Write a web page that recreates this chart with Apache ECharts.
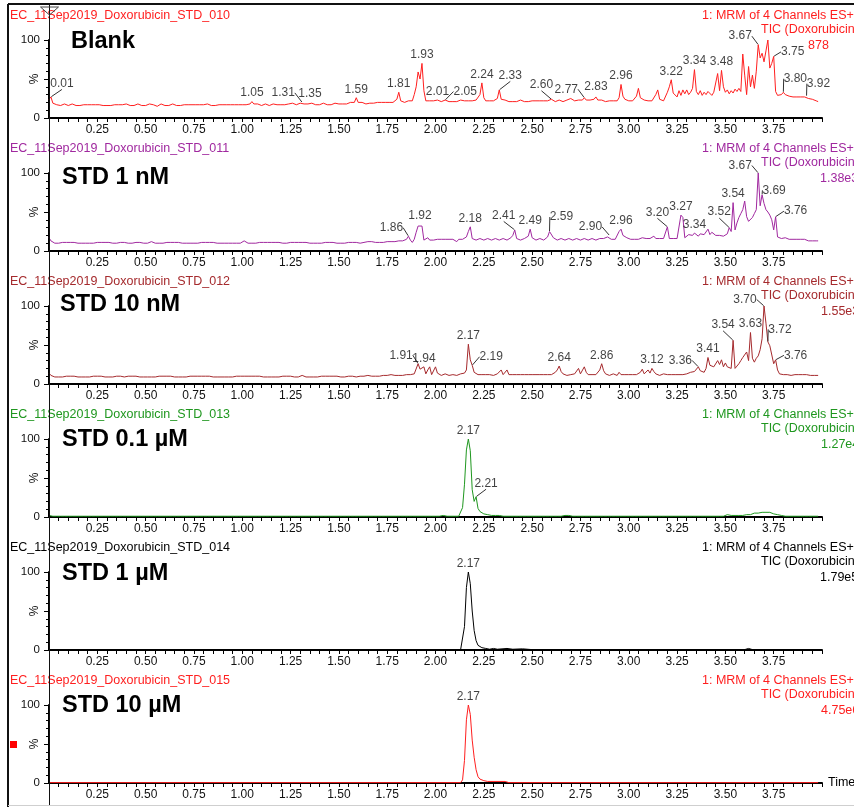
<!DOCTYPE html>
<html>
<head>
<meta charset="utf-8">
<script src="https://cdn.jsdelivr.net/npm/echarts@6/dist/echarts.min.js"></script>
<style>
  html, body { margin: 0; padding: 0; background: #fff; }
  #chart { width: 854px; height: 807px; }
</style>
</head>
<body>
<div id="chart"></div>
<script>
// Sampling interval of the uniformly acquired traces (minutes)
const TIME_STEP = 0.01;

// ---- TIC traces, relative intensity (%) -------------------------------
const blankTrace = [
  24,27,19,18,17,18,16,17,18,17, 16,17,18,17,16,17,16,18,17,16,
  17,18,17,16,17,16,17,18,16,17, 16,17,16,18,17,16,17,16,17,17,
  18,17,16,17,16,17,18,17,16,17, 16,17,18,17,17,16,15,17,18,17,
  16,17,16,17,18,17,16,17,16,18, 17,16,17,18,17,16,17,16,17,18,
  17,16,18,17,16,17,16,18,17,16, 17,18,17,16,17,18,17,16,17,18,
  17,18,17,19,18,21,18,17,18,17, 16,17,18,17,16,17,18,16,17,18,
  17,18,17,16,18,17,19,18,17,18, 19,20,18,17,18,20,19,18,17,18,
  17,18,19,18,17,18,17,18,19,18, 18,19,18,19,18,19,20,19,20,26,
  20,19,20,19,18,20,19,20,19,20, 20,21,20,19,20,21,20,21,20,22,
  24,33,22,21,20,21,22,23,22,30, 40,59,50,70,35,22,21,22,21,22,
  21,23,22,21,22,23,22,21,22,21, 22,21,22,23,21,22,21,22,23,22,
  22,23,24,30,45,26,22,21,22,21, 22,23,25,36,24,22,23,22,21,22,
  21,22,21,22,23,22,21,22,21,22, 22,21,22,21,22,23,22,21,22,21,
  24,22,21,22,23,22,21,22,23,24, 25,23,22,21,23,22,23,26,23,22,
  23,22,24,27,23,22,23,22,21,22, 22,21,22,23,22,26,43,28,24,23,
  22,23,22,24,28,38,26,24,23,22, 22,23,22,21,30,36,24,23,22,23,
  33,40,49,32,30,27,35,29,36,31, 36,30,33,38,62,34,30,35,29,33,
  30,34,36,29,33,35,57,35,61,40, 33,36,31,35,32,37,34,38,34,82,
  55,30,66,40,55,38,60,94,77,83, 72,86,100,64,70,79,34,29,28,30,
  33,30,29,28,29,27,28,27,26,27, 26,27,28,25,26,24,23,22,21
];

const std1nMTrace = [
  17,13,11,10,11,10,11,11,10,11, 10,11,10,11,11,10,11,10,11,10,
  11,10,11,10,10,11,10,11,10,11, 10,11,11,10,11,10,10,11,10,11,
  11,10,11,10,11,11,10,11,10,10, 11,10,11,12,11,10,11,10,11,10,
  10,11,10,11,10,11,10,11,11,10, 11,10,11,10,11,10,11,10,10,11,
  10,11,10,11,10,11,11,10,11,10, 11,10,11,10,11,10,11,10,11,10,
  11,13,11,10,11,10,11,10,11,11, 10,11,10,11,10,11,10,11,10,11,
  11,10,11,10,11,11,10,11,10,11, 10,11,10,11,11,10,11,10,11,10,
  11,10,11,11,10,11,10,11,11,10, 11,10,11,10,11,11,10,11,10,11,
  11,10,11,11,10,12,11,12,11,11, 12,11,12,11,12,12,11,12,13,12,
  12,13,12,13,14,15,19,14,11,15, 24,32,34,32,14,13,17,14,15,14,
  16,15,14,15,16,15,14,15,14,15, 14,12,15,14,15,16,18,25,31,16,
  15,14,15,16,15,14,15,16,15,14, 15,16,15,14,15,16,15,14,16,17,
  20,27,16,15,14,15,16,15,19,28, 17,15,14,15,16,15,14,16,18,25,
  24,17,15,14,15,16,15,14,15,16, 15,14,15,16,15,14,15,16,15,14,
  15,16,15,14,15,16,15,16,17,18, 20,15,16,15,17,25,28,20,22,17,
  16,15,16,15,16,15,16,17,15,16, 15,16,15,19,16,15,16,15,16,17,
  31,16,15,16,17,16,18,46,43,17, 18,21,19,20,23,21,19,22,20,21,
  22,28,21,24,23,20,19,20,18,19, 20,22,30,25,62,27,36,43,48,53,
  64,44,38,36,43,48,53,100,58,72, 61,53,50,46,40,27,44,18,17,16,
  16,17,16,15,16,15,16,15,14,15, 14,15,14,13,14,13,14,13,13
];

const std10nMTrace = [
  14,11,10,9,10,9,10,9,9,10, 9,10,9,10,9,9,10,9,10,9,
  10,9,9,10,9,10,9,10,9,9, 10,9,10,9,9,10,9,10,10,9,
  9,10,9,10,9,10,9,9,10,9, 10,9,10,9,10,9,9,10,9,10,
  9,10,9,10,10,9,10,9,10,9, 10,9,9,10,9,10,9,10,9,10,
  9,10,9,10,9,9,10,9,10,9, 10,9,10,9,10,9,9,10,9,10,
  9,10,9,10,9,10,9,10,9,10, 10,9,10,9,10,9,10,9,10,9,
  9,10,9,10,9,10,10,9,10,9, 10,11,10,9,10,9,10,9,10,9,
  9,10,9,10,9,10,9,10,9,10, 10,9,10,9,10,10,9,10,10,9,
  10,10,9,10,10,11,10,10,11,10, 11,10,11,11,10,11,11,12,11,11,
  12,11,12,11,12,12,11,12,12,13, 14,26,19,17,22,13,18,22,12,12,
  22,14,12,11,12,13,12,11,12,12, 12,11,12,13,12,14,18,51,31,24,
  15,13,12,11,12,13,12,11,12,12, 11,12,13,14,18,12,13,18,12,11,
  12,11,12,13,12,11,12,11,12,13, 12,11,12,13,12,11,12,13,12,11,
  12,13,15,18,23,16,13,12,11,12, 12,11,13,15,20,13,14,22,15,12,
  11,12,13,12,14,18,26,17,13,12, 11,12,13,12,11,15,12,11,12,13,
  12,11,12,13,12,14,15,19,13,12, 18,14,20,16,13,12,11,12,13,12,
  12,13,12,11,12,13,12,13,12,14, 13,14,15,14,16,18,22,17,19,15,
  20,34,24,26,22,24,30,25,31,22, 27,22,24,20,56,20,23,26,30,34,
  36,41,30,66,33,28,33,36,44,58, 100,78,54,49,50,26,31,18,13,12,
  12,13,12,12,11,12,12,11,12,11, 12,11,12,11,11,12,11,11,11
];

const std01uMTrace = [
  2,1,1,1,1,1,1,1,1,1, 1,1,1,1,1,1,1,1,1,1,
  1,1,1,1,1,1,1,1,1,1, 1,1,1,1,1,1,1,1,1,1,
  1,1,1,1,1,1,1,1,1,1, 1,1,1,1,1,1,1,1,1,1,
  1,1,1,1,1,1,1,1,1,1, 1,1,1,1,1,1,1,1,1,1,
  1,1,1,1,1,1,1,1,1,1, 1,1,1,1,1,1,1,1,1,1,
  1,1,1,1,1,1,1,1,1,1, 1,1,1,1,1,1,1,1,1,1,
  1,1,1,1,1,1,1,1,1,1, 1,1,1,1,1,1,1,1,1,1,
  1,1,1,1,1,1,1,1,1,1, 1,1,1,1,1,1,1,1,1,1,
  1,1,1,1,1,1,1,1,1,1, 1,1,1,1,1,1,1,1,1,1,
  1,1,1,1,1,1,1,1,1,1, 1,2,1,1,1,1,1,1,1,1,
  1,1,1,1,2,1,1,1,1,1, 1,1,1,1,12,42,86,100,85,35,
  20,26,11,7,5,4,4,3,3,2, 3,2,3,2,2,1,2,1,1,1,
  1,1,1,1,1,1,1,1,1,1, 1,1,1,1,1,1,1,1,1,1,
  1,1,1,1,1,1,1,2,3,2, 1,1,1,1,1,1,1,1,1,1,
  1,1,1,1,1,1,1,1,1,1, 1,1,1,1,1,1,1,1,1,1,
  1,1,1,1,1,1,1,1,1,1, 1,1,1,1,1,1,1,1,1,1,
  1,1,1,1,1,1,1,1,1,1, 1,1,1,1,1,1,1,1,1,1,
  1,1,2,1,1,1,1,1,1,1, 2,3,2,2,3,2,2,2,3,2,
  3,3,4,3,4,5,4,5,6,6, 7,6,8,6,5,4,3,3,2,2,
  1,1,1,1,1,1,1,1,1,1, 1,1,1,1,1,1,1,1,1
];

// [time, %] pairs for the two high-concentration runs (flat between points)
const std1uMTrace = [
  [0,0.5],[2.13,0.5],[2.14,3],[2.15,30],[2.16,80],[2.17,100],[2.18,85],[2.19,50],
  [2.20,25],[2.21,12],[2.22,6],[2.23,4],[2.24,3],[2.26,2],[2.28,1],[2.30,2],
  [2.32,1],[2.37,2],[2.40,1],[2.45,1.5],[2.50,0.5],[3.60,0.5],[3.62,2],
  [3.64,0.5],[3.98,0.5]
];

const std10uMTrace = [
  [0,0.5],[2.13,0.5],[2.14,4],[2.15,29],[2.16,81],[2.17,100],[2.18,88],[2.19,55],
  [2.20,33],[2.21,17],[2.22,8],[2.23,5],[2.24,4],[2.25,3],[2.27,2],[2.36,2],
  [2.38,0.5],[3.98,0.5]
];

// ---- Annotated retention times (min) ---------------------------------
const blankPeaks   = [0.01,1.05,1.31,1.35,1.59,1.81,1.93,2.01,2.05,2.24,2.33,2.60,2.77,2.83,2.96,3.22,3.34,3.48,3.67,3.75,3.80,3.92];
const std1nMPeaks  = [1.86,1.92,2.18,2.41,2.49,2.59,2.90,2.96,3.20,3.27,3.34,3.52,3.54,3.67,3.69,3.76];
const std10nMPeaks = [1.91,1.94,2.17,2.19,2.64,2.86,3.12,3.36,3.41,3.54,3.63,3.70,3.72,3.76];
const std01uMPeaks = [2.17,2.21];
const std1uMPeaks  = [2.17];
const std10uMPeaks = [2.17];

// ---- Sample descriptions ----------------------------------------------
const sampleNames = ['Blank', 'STD 1 nM', 'STD 10 nM', 'STD 0.1 µM', 'STD 1 µM', 'STD 10 µM'];
const fileNames = [
  'EC_11Sep2019_Doxorubicin_STD_010', 'EC_11Sep2019_Doxorubicin_STD_011',
  'EC_11Sep2019_Doxorubicin_STD_012', 'EC_11Sep2019_Doxorubicin_STD_013',
  'EC_11Sep2019_Doxorubicin_STD_014', 'EC_11Sep2019_Doxorubicin_STD_015'
];
const scanText = '1: MRM of 4 Channels ES+';
const ticText = 'TIC (Doxorubicin)';
const scaleTexts = ['878', '1.38e3', '1.55e3', '1.27e4', '1.79e5', '4.75e6'];

// ---- Presentation ------------------------------------------------------
const FONT = '"Liberation Sans", Arial, sans-serif';
const traceColors = ['#ff1f1f', '#a0289f', '#a52a2d', '#1f971f', '#000000', '#ff1f1f'];
const plotLeft = 49, plotRight = 32, firstTop = 40, panelStep = 133, plotHeight = 78;
const titleX = [71, 62, 60, 62, 62, 62];
const titleDy = [2, 5, -1, 1, 2, 1];
const scaleX = [808, 820, 821, 821, 820, 821];
// label shift [dx, dy] from the default position above each annotated peak
const labelShifts = [
  [[11,-5],[0,0],[-19,-1],[0,0],[0,0],[0,0],[0,0],[0,0],[20,0],[0,0],[11,-6],[-10,-6],[-18,0],[0,-2],[0,0],[0,0],[0,0],[0,0],[-18,0],[19,4],[12,-5],[12,-4]],
  [[-17,0],[0,0],[0,0],[-11,-6],[0,0],[12,-6],[-19,0],[0,0],[-10,-6],[0,0],[0,0],[-10,-7],[0,0],[-18,1],[12,4],[20,3]],
  [[-17,0],[0,0],[0,0],[19,0],[0,0],[0,0],[0,0],[-18,2],[0,0],[-10,-7],[0,0],[-19,2],[12,-4],[20,4]],
  [[0,0],[10,-5]],
  [[0,0]],
  [[0,0]]
];

const traces = [blankTrace, std1nMTrace, std10nMTrace, std01uMTrace, std1uMTrace, std10uMTrace];
const peakLists = [blankPeaks, std1nMPeaks, std10nMPeaks, std01uMPeaks, std1uMPeaks, std10uMPeaks];

function asPairs(trace) {
  if (typeof trace[0] !== 'number') return trace;
  return trace.map((v, i) => [+(i * TIME_STEP).toFixed(2), v]);
}
function intensityAt(pairs, t) {
  let best = pairs[0];
  for (const p of pairs) if (Math.abs(p[0] - t) < Math.abs(best[0] - t)) best = p;
  return best[1];
}

const grids = [], xAxes = [], yAxes = [], series = [], graphics = [];

traces.forEach((trace, k) => {
  const top = firstTop + k * panelStep;
  const color = traceColors[k];
  const pairs = asPairs(trace);
  grids.push({
    left: plotLeft, right: plotRight, top: top, height: plotHeight,
    containLabel: false, outerBoundsMode: 'none'
  });

  xAxes.push({
    type: 'value', gridIndex: k, min: 0, max: 4, interval: 0.25,
    axisLine: { show: true, onZero: false, lineStyle: { color: '#000', width: 2 } },
    axisTick: { show: true, length: 4, lineStyle: { color: '#000', width: 1 } },
    minorTick: { show: true, splitNumber: 5, length: 4, lineStyle: { color: '#000', width: 1 } },
    splitLine: { show: false }, minorSplitLine: { show: false },
    axisLabel: {
      margin: 6, fontSize: 12, color: '#111', fontFamily: FONT,
      formatter: v => (v <= 0 || v >= 4) ? '' : v.toFixed(2)
    },
    name: k === traces.length - 1 ? 'Time' : '',
    nameLocation: 'end', nameGap: 6, nameMoveOverlap: false,
    nameTextStyle: { fontSize: 12.5, color: '#000', fontFamily: FONT }
  });

  yAxes.push({
    type: 'value', gridIndex: k, min: 0, max: 100, interval: 50,
    axisLine: { show: true, lineStyle: { color: '#000', width: 2 } },
    axisTick: { show: true, length: 5, lineStyle: { color: '#000', width: 1 } },
    minorTick: { show: true, splitNumber: 5, length: 3, lineStyle: { color: '#000', width: 1 } },
    splitLine: { show: false }, minorSplitLine: { show: false },
    axisLabel: {
      margin: 9, fontSize: 11.5, color: '#111', fontFamily: FONT,
      formatter: v => (v === 50 ? '' : String(v))
    },
    name: '%', nameLocation: 'middle', nameRotate: 90, nameGap: 8, nameMoveOverlap: false,
    nameTextStyle: { fontSize: 12, color: '#111', fontFamily: FONT }
  });

  series.push({
    type: 'line', xAxisIndex: k, yAxisIndex: k, data: pairs,
    symbol: 'none', showSymbol: false, silent: true, animation: false, z: 3,
    lineStyle: { color: color, width: 1 }
  });

  const shifts = labelShifts[k];
  series.push({
    type: 'scatter', xAxisIndex: k, yAxisIndex: k, animation: false, silent: true, z: 4,
    symbolSize: 1, itemStyle: { color: 'rgba(0,0,0,0)' },
    data: peakLists[k].map((t, j) => ({
      value: [t, intensityAt(pairs, t)],
      labelLine: { show: shifts[j][0] !== 0 || shifts[j][1] < -3 }
    })),
    label: {
      show: true, position: 'top', distance: 2, fontSize: 12, color: '#111', fontFamily: FONT,
      formatter: p => p.value[0].toFixed(2)
    },
    labelLayout: p => ({ dx: shifts[p.dataIndex][0], dy: shifts[p.dataIndex][1] }),
    labelLine: { show: true, smooth: false, lineStyle: { color: '#333', width: 1 } }
  });

  // run file name, sample title, and trace description
  graphics.push({
    type: 'text', x: 10, y: top - 24, silent: true,
    style: { text: fileNames[k], fill: color, font: '12.5px ' + FONT, verticalAlign: 'middle' }
  });
  graphics.push({
    type: 'text', x: titleX[k], y: top + titleDy[k], silent: true,
    style: { text: sampleNames[k], fill: '#000', font: 'bold 23.5px ' + FONT, verticalAlign: 'middle' }
  });
  graphics.push({
    type: 'text', x: 702, y: top - 24, silent: true,
    style: { text: scanText, fill: color, font: '12.5px ' + FONT, verticalAlign: 'middle' }
  });
  graphics.push({
    type: 'text', x: 761, y: top - 10, silent: true,
    style: { text: ticText, fill: color, font: '12.5px ' + FONT, verticalAlign: 'middle' }
  });
  graphics.push({
    type: 'text', x: scaleX[k], y: top + 5.5, silent: true,
    style: { text: scaleTexts[k], fill: color, font: '12.5px ' + FONT, verticalAlign: 'middle' }
  });
});

// window frame
graphics.push({ type: 'line', silent: true, shape: { x1: 8, y1: 4, x2: 854, y2: 4 }, style: { stroke: '#111', lineWidth: 2 } });
graphics.push({ type: 'line', silent: true, shape: { x1: 8, y1: 4, x2: 8, y2: 807 }, style: { stroke: '#111', lineWidth: 2 } });
graphics.push({ type: 'line', silent: true, shape: { x1: 8, y1: 805.5, x2: 854, y2: 805.5 }, style: { stroke: '#cfcfcf', lineWidth: 1 } });
// selection marker on the last run
graphics.push({ type: 'rect', silent: true, shape: { x: 10, y: 741, width: 7, height: 7 }, style: { fill: '#ff0000', stroke: 'none' } });

const chart = echarts.init(document.getElementById('chart'), null, { renderer: 'canvas' });
chart.setOption({
  animation: false,
  backgroundColor: '#ffffff',
  grid: grids, xAxis: xAxes, yAxis: yAxes, series: series,
  graphic: graphics
});

// time cursor at t = 0 running through all panels
const cx = Math.round(chart.convertToPixel({ xAxisIndex: 0 }, 0)) + 0.5;
chart.setOption({
  graphic: graphics.concat([
    { type: 'line', silent: true, z: 10, shape: { x1: cx, y1: 5, x2: cx, y2: 805 }, style: { stroke: '#111', lineWidth: 1 } },
    { type: 'polygon', silent: true, z: 10, shape: { points: [[cx - 9, 7], [cx + 9, 7], [cx, 15]] }, style: { fill: 'none', stroke: '#444', lineWidth: 1 } }
  ])
});
</script>
</body>
</html>
